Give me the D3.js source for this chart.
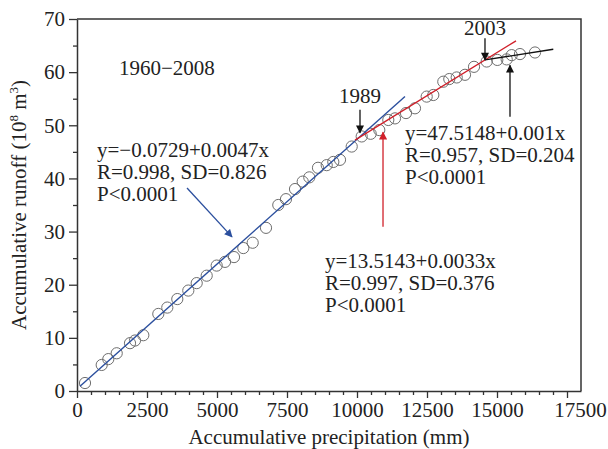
<!DOCTYPE html>
<html>
<head>
<meta charset="utf-8">
<script src="https://cdn.jsdelivr.net/npm/d3@7"></script>
<style>
  body { margin: 0; background: #fff; }
  text { font-family: "Liberation Serif", "Times New Roman", serif; fill: #222; }
</style>
</head>
<body>
<div id="chart"></div>
<script>
// cumulative precipitation (mm) and cumulative runoff (10^8 m3), 1960-2008
var precip = [286, 882, 1118, 1418, 1893, 2071, 2368, 2904, 3225, 3582,
    3975, 4275, 4632, 4989, 5286, 5607, 5939, 6275, 6750, 7189,
    7464, 7786, 8061, 8296, 8607, 8918, 9154, 9393, 9811, 10168,
    10489, 10796, 11118, 11357, 11750, 12071, 12489, 12725, 13082, 13296,
    13561, 13857, 14179, 14632, 15011, 15346, 15525, 15821, 16357]
var runoff = [1.5, 4.9, 6.0, 7.1, 9.0, 9.5, 10.5, 14.5, 15.7, 17.3,
    18.9, 20.3, 21.7, 23.6, 24.3, 25.2, 26.9, 27.9, 30.7, 35.0,
    36.1, 38.0, 39.4, 40.2, 42.0, 42.5, 43.1, 43.5, 46.0, 47.9,
    48.4, 49.1, 51.0, 51.3, 52.3, 53.2, 55.4, 55.7, 58.2, 58.7,
    59.0, 59.5, 61.0, 62.0, 62.3, 62.4, 63.2, 63.4, 63.7]

// fitted lines: [x0, y0, x1, y1]
var fitBlue = [107, 0.9, 11714, 55.4]
var fitRed = [9929, 47.2, 15679, 65.9]
var fitBlack = [14571, 62.3, 17011, 64.3]

var xTicks = [0, 2500, 5000, 7500, 10000, 12500, 15000, 17500]
var yTicks = [0, 10, 20, 30, 40, 50, 60, 70]

var eqBlue = ["y=\u22120.0729+0.0047x", "R=0.998, SD=0.826", "P<0.0001"]
var eqRed = ["y=13.5143+0.0033x", "R=0.997, SD=0.376", "P<0.0001"]
var eqBlack = ["y=47.5148+0.001x", "R=0.957, SD=0.204", "P<0.0001"]

var width = 608, height = 449
var margin = {left: 77, right: 27, top: 19, bottom: 58}
var serif = '"Liberation Serif", "Times New Roman", serif'

var svg = d3.select('#chart').append('svg')
    .attr('width', width)
    .attr('height', height)

var x = d3.scaleLinear().domain([0, 18000]).range([margin.left, width - margin.right])
var y = d3.scaleLinear().domain([0, 70]).range([height - margin.bottom, margin.top])

// arrow markers
var defs = svg.append('defs')
;[['blk', '#111'], ['red', '#d0202a'], ['blu', '#2b4f9e']].forEach(function(m) {
    defs.append('marker')
        .attr('id', 'arr_' + m[0])
        .attr('viewBox', '0 -5 10 10')
        .attr('refX', 9)
        .attr('refY', 0)
        .attr('orient', 'auto')
        .attr('markerUnits', 'userSpaceOnUse')
        .attr('markerWidth', 9)
        .attr('markerHeight', 8)
        .append('path')
        .attr('d', 'M0,-5L10,0L0,5Z')
        .style('fill', m[1])
})

// axes
var xAxis = svg.append('g')
    .attr('transform', 'translate(0,' + y(0) + ')')
    .call(d3.axisBottom(x).tickValues(xTicks).tickSize(7).tickSizeOuter(0).tickPadding(4)
        .tickFormat(d3.format('d')))
svg.append('g')
    .attr('transform', 'translate(0,' + y(0) + ')')
    .call(d3.axisBottom(x).tickValues(d3.range(500, 18000, 500).filter(function(d){ return d % 2500 != 0 }))
        .tickSize(4).tickSizeOuter(0).tickFormat(''))
    .select('.domain').remove()

var yAxis = svg.append('g')
    .attr('transform', 'translate(' + x(0) + ',0)')
    .call(d3.axisLeft(y).tickValues(yTicks).tickSize(8).tickSizeOuter(0).tickPadding(4))
svg.append('g')
    .attr('transform', 'translate(' + x(0) + ',0)')
    .call(d3.axisLeft(y).tickValues(d3.range(5, 70, 10)).tickSize(4).tickFormat(''))
    .select('.domain').remove()

svg.selectAll('.tick line').style('stroke', '#333').style('stroke-width', 1.3)
svg.selectAll('.domain').style('stroke', '#333').style('stroke-width', 1.5)
svg.selectAll('g').attr('font-family', null)
svg.selectAll('.tick text')
    .style('font-family', serif)
    .style('font-size', '21px')
    .style('fill', '#222')
xAxis.selectAll('.tick text').filter(function(d){ return d == 17500 }).attr('dx', 13)

// frame top and right
svg.append('path')
    .attr('d', 'M' + x(0) + ',' + y(70) + 'H' + x(18000) + 'V' + y(0))
    .style('fill', 'none')
    .style('stroke', '#333')
    .style('stroke-width', 1.5)

// axis titles
svg.append('text')
    .attr('x', (x(0) + x(18000)) / 2)
    .attr('y', 444)
    .attr('text-anchor', 'middle')
    .style('font-size', '21px')
    .text('Accumulative precipitation (mm)')

var yt = svg.append('text')
    .attr('transform', 'translate(26,' + (y(0) + y(70)) / 2 + ') rotate(-90)')
    .attr('text-anchor', 'middle')
    .style('font-size', '21px')
yt.append('tspan').text('Accumulative runoff (10')
yt.append('tspan').text('8').attr('dy', -8).style('font-size', '13px')
yt.append('tspan').text(' m').attr('dy', 8)
yt.append('tspan').text('3').attr('dy', -8).style('font-size', '13px')
yt.append('tspan').text(')').attr('dy', 8)

// data points
svg.append('g').selectAll('circle')
    .data(precip)
    .enter()
    .append('circle')
    .attr('cx', function(d){ return x(d) })
    .attr('cy', function(d, i){ return y(runoff[i]) })
    .attr('r', 5.6)
    .style('fill', 'none')
    .style('stroke', '#6e6e6e')
    .style('stroke-width', 1)

// regression lines
;[[fitBlue, '#2b4f9e'], [fitRed, '#d0202a'], [fitBlack, '#111']].forEach(function(f) {
    svg.append('line')
        .attr('x1', x(f[0][0])).attr('y1', y(f[0][1]))
        .attr('x2', x(f[0][2])).attr('y2', y(f[0][3]))
        .style('stroke', f[1])
        .style('stroke-width', 1.4)
})

// annotation arrows [x0, y0, x1, y1] in data units
function arrow(a, color, id) {
    svg.append('line')
        .attr('x1', x(a[0])).attr('y1', y(a[1]))
        .attr('x2', x(a[2])).attr('y2', y(a[3]))
        .style('stroke', color)
        .style('stroke-width', 1.3)
        .attr('marker-end', 'url(#arr_' + id + ')')
}
arrow([10107, 52.9, 10107, 48.6], '#111', 'blk')
arrow([14571, 66.4, 14571, 62.3], '#111', 'blk')
arrow([15464, 51.6, 15464, 61.3], '#111', 'blk')
arrow([10929, 30.9, 10929, 48.7], '#d0202a', 'red')
arrow([3929, 38.2, 5536, 29.0], '#2b4f9e', 'blu')

// labels
function label(tx, px, py, anchor) {
    svg.append('text')
        .attr('x', px).attr('y', py)
        .attr('text-anchor', anchor || 'start')
        .style('font-size', '21px')
        .text(tx)
}
label('1960\u22122008', 119, 75)
label('1989', x(10107), 103, 'middle')
label('2003', x(14571), 35, 'middle')

function block(lines, px, py) {
    lines.forEach(function(l, i) {
        label(l, px, py + i * 22)
    })
}
block(eqBlue, 97, 157)
block(eqBlack, 405, 140)
block(eqRed, 325, 268)
</script>
</body>
</html>
